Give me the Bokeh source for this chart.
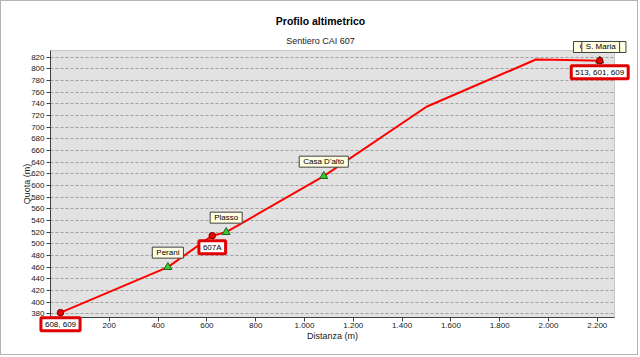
from bokeh.plotting import figure
from bokeh.models import (Range1d, Label, FixedTicker, SingleIntervalTicker,
                          CustomJSTickFormatter, BoxAnnotation)
from bokeh.embed import file_html
from bokeh.resources import INLINE

# Profile data (distance m, elevation m)
dist = [0, 440, 622, 679, 1079, 1500, 1948, 2075, 2210]
elev = [382, 460, 514, 520, 616, 735, 816, 815, 814]

# Points of interest (green triangles)
poi_names = ["Perani", "Plasso", "Casa D'alto", "S. Maria"]
poi_dist = [440, 679, 1079, 2210]
poi_elev = [460, 520, 616, 814]

# Route junctions (red circles)
route_names = ["608, 609", "607A", "513, 601, 609"]
route_dist = [0, 622, 2210]
route_elev = [382, 514, 814]

x_ticks = [200, 400, 600, 800, 1000, 1200, 1400, 1600, 1800, 2000, 2200]

# visible plotting area (data units)
X0, X1 = -41, 2270.5
Y0, Y1 = 373.7, 831.5

FONT = "Liberation Sans"

p = figure(width=638, height=355, output_backend="svg", toolbar_location=None,
           x_range=Range1d(-241.8, 2373), y_range=Range1d(306.8, 915.5),
           min_border=0, background_fill_color="white",
           border_fill_color="white", outline_line_color=None)
p.styles = {"border": "1px solid #b4b4b4"}

# grey plot area
p.add_layout(BoxAnnotation(left=X0, right=X1, bottom=Y0, top=Y1,
                           fill_color="#e2e2e2", fill_alpha=1,
                           line_color="#707070", line_width=1, level="image"))

p.line(dist, elev, line_color="#ff0000", line_width=2)
p.scatter(poi_dist, poi_elev, marker="triangle", size=8,
          fill_color="#33cc33", line_color="#206020", line_width=1)
p.scatter(route_dist, route_elev, marker="circle", size=6.5,
          fill_color="#ee0000", line_color="#700000", line_width=1)

# axes
p.xaxis.ticker = FixedTicker(ticks=x_ticks)
p.yaxis.ticker = SingleIntervalTicker(interval=20)
fmt = CustomJSTickFormatter(code="return tick.toFixed(0).replace(/\\B(?=(\\d{3})+(?!\\d))/g, '.');")
p.xaxis.formatter = fmt
p.yaxis.formatter = fmt
p.xaxis.fixed_location = Y0
p.yaxis.fixed_location = X0
p.xaxis.bounds = (X0, X1)
p.yaxis.bounds = (Y0, Y1)
p.xaxis.axis_label = "Distanza (m)"
p.yaxis.axis_label = "Quota (m)"
for ax in (p.xaxis, p.yaxis):
    ax.axis_label_text_font = FONT
    ax.axis_label_text_font_size = "9px"
    ax.axis_label_text_font_style = "normal"
    ax.axis_label_text_color = "#202020"
    ax.major_label_text_font = FONT
    ax.major_label_text_font_size = "8px"
    ax.major_label_text_color = "#202020"
    ax.axis_line_color = "#404040"
    ax.major_tick_line_color = "#404040"
    ax.major_tick_out = 4
    ax.major_tick_in = 0
    ax.minor_tick_line_color = None
    ax.major_label_standoff = 2
p.xaxis.axis_label_standoff = -1
p.yaxis.axis_label_standoff = -4

p.xgrid.grid_line_color = None
p.ygrid.grid_line_color = "#a0a0a0"
p.ygrid.grid_line_dash = "3 2"
p.ygrid.grid_line_width = 1
p.ygrid.cross_bounds = (X0, X1)

# titles (screen units relative to frame)
p.add_layout(Label(x=319, y=336, x_units="screen", y_units="screen",
                   text="Profilo altimetrico", text_align="center",
                   text_baseline="middle", text_font=FONT,
                   text_font_size="10.5px", text_font_style="bold",
                   text_color="black"))
p.add_layout(Label(x=319, y=316, x_units="screen", y_units="screen",
                   text="Sentiero CAI 607", text_align="center",
                   text_baseline="middle", text_font=FONT,
                   text_font_size="9px", text_color="#202020"))

# POI labels (beige boxes above the points)
p.add_layout(Label(x=poi_dist[3], y=poi_elev[3], y_offset=13.7,
                   text="Cappelletta", text_align="center", text_baseline="middle",
                   text_font=FONT, text_font_size="8px", text_color="black",
                   background_fill_color="#ffffe1", border_line_color="#404040",
                   border_line_width=1, padding=(6, 6, 1, 1)))
for name, d, e in zip(poi_names, poi_dist, poi_elev):
    sm = name == "S. Maria"
    p.add_layout(Label(x=d, y=e, x_offset=(1 if sm else 0),
                       y_offset=(13.7 if sm else 14.5),
                       text=name, text_align="center", text_baseline="middle",
                       text_font=FONT, text_font_size="8px", text_color="black",
                       background_fill_color="#ffffe1",
                       border_line_color="#404040", border_line_width=1,
                       padding=(4, 4, 1, 1)))

# route labels (white boxes with red bands, below the points)
for name, d, e in zip(route_names, route_dist, route_elev):
    p.add_layout(Label(x=d, y=e, y_offset=-11.5, text=name,
                       text_align="center", text_baseline="middle",
                       text_font=FONT, text_font_size="8px", text_color="black",
                       background_fill_color="white",
                       border_line_color="#e00000", border_line_width=3,
                       padding=(4, 4, 2, 2)))

open("out.html", "w").write(file_html(p, INLINE))
